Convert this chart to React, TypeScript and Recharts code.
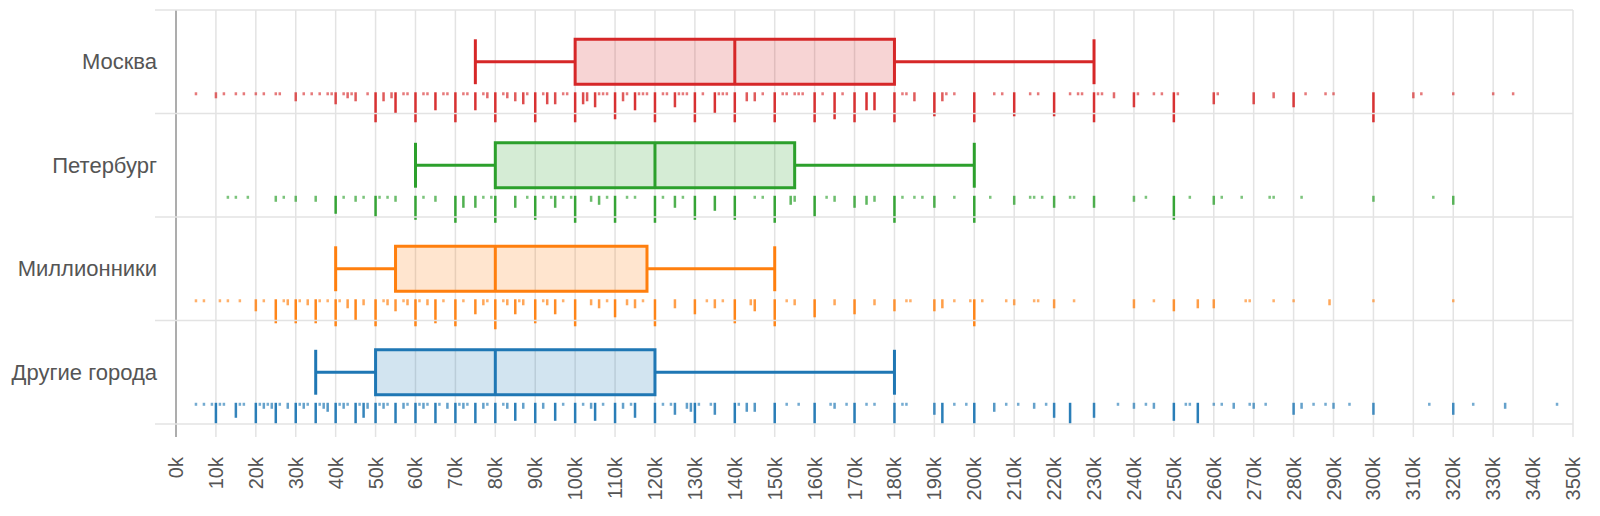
import React from "react";
import {
  ScatterChart,
  Scatter,
  XAxis,
  YAxis,
  CartesianGrid,
  ReferenceArea,
  ReferenceLine,
} from "recharts";

const cities = ["Москва", "Петербург", "Миллионники", "Другие города"];
const colors = ["#d62728", "#2ca02c", "#ff7f0e", "#1f77b4"];

// box plot stats, thousand rubles
const whiskerLow = [75, 60, 40, 35];
const q1 = [100, 80, 55, 50];
const median = [140, 120, 80, 80];
const q3 = [180, 155, 118, 120];
const whiskerHigh = [230, 200, 150, 180];

const xTicks = [
  0, 10, 20, 30, 40, 50, 60, 70, 80, 90, 100, 110, 120, 130, 140, 150, 160, 170,
  180, 190, 200, 210, 220, 230, 240, 250, 260, 270, 280, 290, 300, 310, 320, 330,
  340, 350,
];

// rug: [salary, number of vacancies with it]
const moscowRug = [
  [5, 1], [10, 2], [12, 1], [15, 1], [17, 1], [20, 1], [22, 1], [25, 1], [26, 1],
  [30, 3], [32, 1], [34, 1], [36, 1], [38, 1], [39, 1], [40, 4], [42, 1], [43, 2],
  [44, 1], [45, 3], [48, 1], [50, 10], [52, 3], [54, 2], [55, 7], [57, 1], [58, 1],
  [60, 10], [62, 1], [63, 1], [65, 6], [67, 1], [68, 1], [70, 10], [72, 1], [73, 1],
  [75, 6], [77, 1], [78, 2], [80, 10], [82, 1], [83, 2], [85, 3], [87, 4], [88, 1],
  [90, 10], [92, 1], [93, 4], [95, 4], [97, 1], [98, 1], [100, 10], [102, 4],
  [103, 3], [105, 5], [106, 1], [107, 1], [108, 1], [110, 9], [112, 3], [113, 1],
  [115, 6], [116, 1], [117, 1], [118, 1], [120, 10], [122, 1], [123, 1], [125, 5],
  [126, 1], [127, 1], [128, 1], [130, 10], [132, 1], [135, 7], [136, 1], [137, 1],
  [138, 1], [140, 10], [143, 3], [145, 3], [147, 1], [150, 10], [152, 1], [153, 1],
  [155, 1], [156, 1], [157, 1], [160, 10], [162, 1], [165, 9], [167, 1], [170, 10],
  [173, 6], [175, 6], [180, 10], [182, 1], [183, 1], [185, 3], [190, 8], [192, 3],
  [193, 1], [195, 1], [200, 10], [205, 1], [207, 1], [210, 8], [214, 1], [216, 1],
  [220, 8], [224, 1], [226, 1], [227, 1], [230, 10], [231, 1], [232, 1], [235, 2],
  [240, 5], [241, 1], [245, 1], [247, 1], [250, 10], [251, 1], [260, 4], [261, 1],
  [270, 4], [275, 2], [280, 5], [283, 1], [288, 1], [290, 1], [300, 10], [310, 2],
  [312, 1], [320, 1], [330, 1], [335, 1],
];

const spbRug = [
  [13, 1], [15, 1], [18, 1], [25, 2], [27, 1], [30, 2], [35, 2], [40, 6], [42, 1],
  [45, 2], [47, 1], [50, 7], [51, 1], [53, 1], [55, 2], [60, 8], [62, 1], [65, 2],
  [70, 9], [72, 4], [75, 4], [77, 1], [79, 1], [80, 9], [85, 4], [88, 1], [90, 8],
  [92, 1], [94, 1], [95, 4], [97, 1], [99, 1], [100, 9], [104, 2], [106, 3],
  [108, 1], [110, 9], [113, 1], [115, 1], [120, 9], [122, 1], [125, 4], [127, 1],
  [130, 8], [135, 5], [140, 8], [145, 1], [147, 1], [150, 9], [154, 3], [155, 2],
  [160, 7], [163, 1], [165, 2], [170, 4], [173, 3], [175, 2], [180, 9], [182, 1],
  [185, 1], [187, 1], [190, 4], [195, 1], [200, 9], [204, 1], [210, 3], [214, 1],
  [215, 1], [217, 1], [220, 4], [224, 1], [225, 1], [230, 4], [240, 2], [243, 1],
  [250, 8], [254, 1], [260, 3], [262, 1], [267, 1], [274, 1], [275, 1], [282, 1],
  [300, 2], [315, 1], [320, 3],
];

const millionRug = [
  [5, 1], [7, 1], [11, 1], [13, 1], [16, 1], [20, 4], [22, 1], [25, 8], [27, 1],
  [28, 2], [30, 8], [31, 1], [33, 2], [35, 8], [36, 1], [38, 1], [40, 9], [41, 1],
  [43, 3], [45, 7], [47, 2], [50, 9], [52, 1], [53, 2], [55, 4], [57, 1], [58, 2],
  [60, 9], [61, 1], [63, 2], [65, 8], [67, 1], [70, 9], [72, 1], [75, 5], [77, 2],
  [78, 1], [80, 10], [82, 1], [83, 2], [85, 5], [86, 1], [87, 2], [90, 8], [92, 1],
  [93, 2], [95, 5], [97, 1], [100, 9], [104, 2], [106, 3], [108, 1], [110, 6],
  [113, 2], [115, 3], [117, 1], [120, 9], [125, 3], [130, 5], [133, 1], [135, 3],
  [137, 1], [140, 8], [144, 2], [145, 4], [150, 9], [153, 1], [155, 2], [160, 6],
  [165, 2], [170, 5], [175, 2], [180, 4], [183, 1], [184, 1], [190, 4], [192, 3],
  [195, 1], [199, 1], [200, 9], [202, 1], [208, 1], [210, 2], [215, 1], [216, 1],
  [220, 3], [225, 1], [240, 3], [245, 1], [250, 4], [256, 3], [260, 3], [268, 1],
  [269, 1], [275, 1], [280, 1], [289, 2], [300, 1], [320, 1],
];

const otherRug = [
  [5, 1], [7, 1], [9, 1], [10, 8], [11, 1], [12, 1], [15, 5], [16, 1], [17, 1],
  [20, 8], [21, 1], [22, 2], [23, 1], [24, 2], [25, 8], [26, 1], [28, 2], [30, 9],
  [31, 1], [32, 2], [33, 1], [35, 8], [36, 1], [37, 2], [38, 3], [40, 9], [41, 1],
  [42, 2], [43, 1], [45, 7], [46, 1], [47, 5], [48, 2], [50, 10], [51, 1], [52, 2],
  [53, 1], [55, 8], [57, 2], [58, 1], [60, 10], [61, 1], [62, 2], [63, 1], [65, 8],
  [66, 1], [68, 2], [70, 9], [71, 1], [72, 2], [73, 1], [75, 8], [77, 2], [78, 1],
  [80, 10], [82, 1], [83, 2], [85, 6], [87, 2], [90, 8], [92, 2], [95, 6], [97, 1],
  [100, 9], [102, 1], [104, 2], [105, 6], [107, 1], [110, 8], [112, 2], [114, 1],
  [115, 5], [120, 9], [122, 1], [124, 1], [125, 4], [128, 2], [129, 3], [130, 8],
  [131, 1], [134, 1], [135, 4], [140, 8], [141, 1], [143, 3], [145, 3], [150, 8],
  [153, 1], [156, 1], [160, 8], [164, 1], [165, 2], [168, 1], [170, 8], [173, 1],
  [175, 1], [180, 9], [182, 1], [183, 1], [190, 4], [192, 8], [195, 1], [198, 1],
  [200, 8], [205, 3], [208, 1], [211, 1], [215, 2], [218, 1], [220, 5], [224, 8],
  [230, 5], [236, 1], [240, 2], [243, 1], [245, 2], [250, 6], [253, 1], [254, 1],
  [256, 8], [260, 1], [262, 1], [265, 2], [269, 1], [270, 2], [273, 1], [280, 4],
  [282, 2], [285, 1], [288, 1], [290, 2], [294, 1], [300, 4], [314, 1], [320, 4],
  [325, 1], [333, 2], [346, 1],
];

const rugs = [moscowRug, spbRug, millionRug, otherRug];

const W = 1600;
const H = 516;
const LEFT = 176;
const RIGHT = 27;
const PLOT_W = W - LEFT - RIGHT;
const GRID = "#e3e3e3";
const AXIS = "#999";
const TEXT = "#555";
const TICK_SIZE = 13;
const TICK_MARGIN = 20;
const BOX_HALF = 0.217;
const RUG_OFFSET = 0.295;
const RUG_UNIT = 3;
const rugMaxUnits = [10, 10, 10, 7];

const boxes = cities.map((name, i) => ({
  name,
  color: colors[i],
  c: i + 0.5,
  lo: whiskerLow[i],
  q1: q1[i],
  med: median[i],
  q3: q3[i],
  hi: whiskerHigh[i],
}));

const bandTicks = [0, 0.5, 1, 1.5, 2, 2.5, 3, 3.5, 4];

function BandTick(props: any) {
  const { x, y, payload } = props;
  const v = payload.value;
  if (Number.isInteger(v)) {
    return (
      <line x1={x - 21} x2={x + PLOT_W} y1={y} y2={y} stroke={GRID} strokeWidth={1.5} />
    );
  }
  return (
    <text x={x - 19} y={y} dy="0.35em" textAnchor="end" fontSize={22} fill={TEXT}>
      {cities[Math.floor(v)]}
    </text>
  );
}

function SalaryTick(props: any) {
  const { x, y, payload } = props;
  return (
    <g>
      {payload.value === 0 && (
        <line
          x1={x}
          x2={x}
          y1={y - TICK_MARGIN - TICK_SIZE}
          y2={y - TICK_MARGIN}
          stroke={AXIS}
          strokeWidth={1.5}
        />
      )}
      <text
        transform={`translate(${x},${y}) rotate(-90)`}
        textAnchor="end"
        dy="0.35em"
        fontSize={20}
        fill={TEXT}
      >
        {`${payload.value}k`}
      </text>
    </g>
  );
}

const rugShape = (color: string, maxUnits: number) => (props: any) => {
  const n = Math.min(props.payload.n, maxUnits);
  return (
    <rect
      x={props.cx - 1.25}
      y={props.cy}
      width={2.5}
      height={n * RUG_UNIT}
      fill={color}
      fillOpacity={Math.min(0.95, 0.55 + n * 0.07)}
    />
  );
};

export default function App() {
  return (
    <div style={{ width: W, height: H, fontFamily: '"Liberation Sans", Arial, sans-serif' }}>
      <style>{"body{margin:0}"}</style>
      <ScatterChart width={W} height={H} margin={{ top: 10, right: RIGHT, bottom: 0, left: 0 }}>
        <CartesianGrid horizontal={false} stroke={GRID} strokeWidth={1.5} />
        <XAxis
          type="number"
          dataKey="x"
          domain={[0, 350]}
          ticks={xTicks}
          interval={0}
          height={92}
          axisLine={false}
          tickSize={TICK_SIZE}
          tickMargin={TICK_MARGIN}
          tickLine={{ stroke: GRID, strokeWidth: 1.5 }}
          tick={<SalaryTick />}
        />
        <YAxis
          type="number"
          dataKey="y"
          domain={[0, 4]}
          reversed
          ticks={bandTicks}
          interval={0}
          width={LEFT}
          tickLine={false}
          tickSize={0}
          tickMargin={0}
          axisLine={{ stroke: AXIS, strokeWidth: 1.5 }}
          tick={<BandTick />}
        />
        {boxes.map((b) => (
          <ReferenceArea
            key={`box-${b.name}`}
            x1={b.q1}
            x2={b.q3}
            y1={b.c - BOX_HALF}
            y2={b.c + BOX_HALF}
            fill={b.color}
            fillOpacity={0.2}
            stroke={b.color}
            strokeWidth={3}
          />
        ))}
        {boxes.map((b) => [
          <ReferenceLine key={`wl-${b.name}`} segment={[{ x: b.lo, y: b.c }, { x: b.q1, y: b.c }]} stroke={b.color} strokeWidth={3} />,
          <ReferenceLine key={`wh-${b.name}`} segment={[{ x: b.q3, y: b.c }, { x: b.hi, y: b.c }]} stroke={b.color} strokeWidth={3} />,
          <ReferenceLine key={`cl-${b.name}`} segment={[{ x: b.lo, y: b.c - BOX_HALF }, { x: b.lo, y: b.c + BOX_HALF }]} stroke={b.color} strokeWidth={3} />,
          <ReferenceLine key={`ch-${b.name}`} segment={[{ x: b.hi, y: b.c - BOX_HALF }, { x: b.hi, y: b.c + BOX_HALF }]} stroke={b.color} strokeWidth={3} />,
          <ReferenceLine key={`md-${b.name}`} segment={[{ x: b.med, y: b.c - BOX_HALF }, { x: b.med, y: b.c + BOX_HALF }]} stroke={b.color} strokeWidth={3} />,
        ])}
        {rugs.map((rug, i) => (
          <Scatter
            key={`rug-${cities[i]}`}
            data={rug.map(([v, n]) => ({ x: v, y: i + 0.5 + RUG_OFFSET, n }))}
            shape={rugShape(colors[i], rugMaxUnits[i])}
            isAnimationActive={false}
          />
        ))}
      </ScatterChart>
    </div>
  );
}
